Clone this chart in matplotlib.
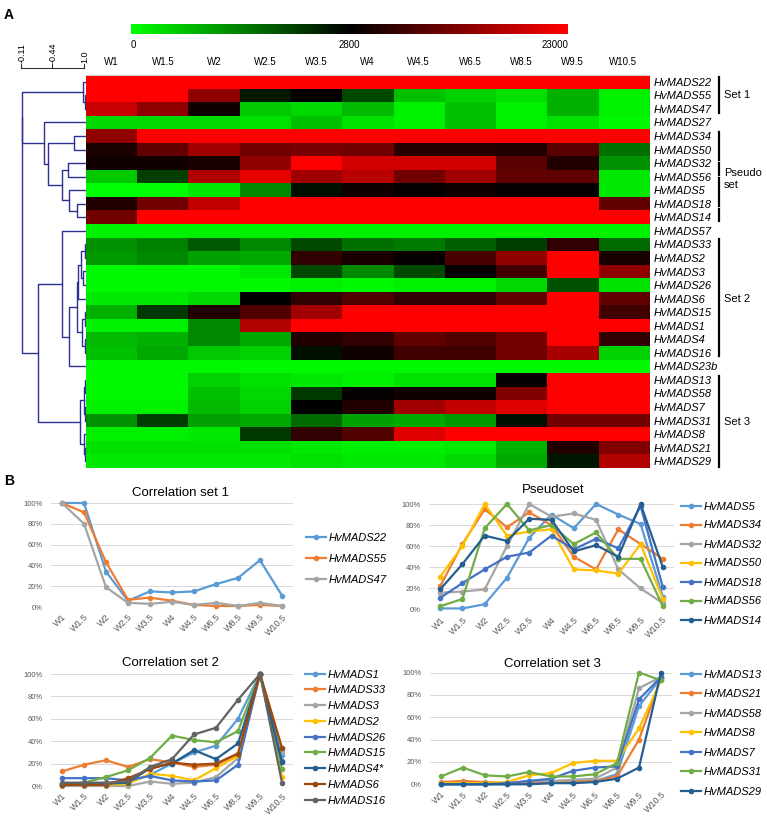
import numpy as np
import matplotlib
matplotlib.use('Agg')
import matplotlib.pyplot as plt
from matplotlib.colors import LinearSegmentedColormap, TwoSlopeNorm
from matplotlib import transforms

plt.rcParams['font.family'] = ['Liberation Sans', 'DejaVu Sans']

W, H = 767, 821

stages = ['W1', 'W1.5', 'W2', 'W2.5', 'W3.5', 'W4', 'W4.5', 'W6.5', 'W8.5', 'W9.5', 'W10.5']

# --- panel A: heatmap rows (top to bottom) ---
genes = ['HvMADS22', 'HvMADS55', 'HvMADS47', 'HvMADS27', 'HvMADS34', 'HvMADS50',
         'HvMADS32', 'HvMADS56', 'HvMADS5', 'HvMADS18', 'HvMADS14', 'HvMADS57',
         'HvMADS33', 'HvMADS2', 'HvMADS3', 'HvMADS26', 'HvMADS6', 'HvMADS15',
         'HvMADS1', 'HvMADS4', 'HvMADS16', 'HvMADS23b', 'HvMADS13', 'HvMADS58',
         'HvMADS7', 'HvMADS31', 'HvMADS8', 'HvMADS21', 'HvMADS29']

expr = np.array([
    [23000, 23000, 23000, 23000, 23000, 23000, 23000, 23000, 23000, 23000, 23000],
    [23000, 23000, 14200, 2540, 2800, 2010, 690, 515, 340, 870, 165],
    [18640, 14200, 4070, 600, 430, 780, 165, 690, 165, 870, 165],
    [430, 430, 430, 340, 690, 340, 165, 690, 165, 340, 77],
    [14200, 23000, 23000, 23000, 23000, 23000, 23000, 23000, 23000, 23000, 23000],
    [4860, 10400, 15470, 11670, 12300, 11670, 5970, 5970, 5330, 9770, 1570],
    [4070, 4070, 4700, 14200, 23000, 19280, 19280, 19280, 9770, 5330, 1220],
    [600, 2100, 16740, 21180, 15470, 17370, 11670, 15470, 10400, 10400, 250],
    [0, 0, 250, 1310, 2625, 4070, 3430, 4070, 3430, 3430, 250],
    [5330, 11670, 18010, 23000, 23000, 23000, 23000, 23000, 23000, 23000, 10400],
    [11670, 23000, 23000, 23000, 23000, 23000, 23000, 23000, 23000, 23000, 23000],
    [165, 165, 165, 165, 165, 165, 165, 165, 165, 165, 165],
    [1220, 1390, 1830, 1310, 2010, 1570, 1480, 1750, 2100, 6600, 1660],
    [1130, 1310, 1040, 955, 6600, 4700, 3430, 8500, 14200, 23000, 4700],
    [77, 77, 77, 250, 2010, 1310, 2010, 3430, 7870, 23000, 14200],
    [77, 77, 77, 77, 165, 77, 165, 165, 430, 1920, 340],
    [250, 250, 430, 2800, 6600, 9140, 6600, 6600, 10400, 23000, 10400],
    [870, 2185, 5330, 9140, 15470, 23000, 23000, 23000, 23000, 23000, 7870],
    [165, 165, 1310, 16740, 23000, 23000, 23000, 23000, 23000, 23000, 23000],
    [780, 870, 1310, 955, 5330, 6600, 10400, 9140, 11670, 23000, 6600],
    [690, 955, 600, 515, 2625, 4070, 7870, 7870, 11670, 16100, 515],
    [77, 77, 77, 77, 77, 77, 77, 77, 77, 77, 77],
    [77, 77, 515, 340, 250, 165, 340, 340, 3430, 23000, 23000],
    [77, 77, 690, 430, 2185, 3430, 4070, 4070, 12940, 23000, 23000],
    [165, 165, 780, 515, 2800, 5330, 15470, 18010, 20540, 23000, 23000],
    [1220, 2100, 1040, 955, 1660, 1040, 955, 1130, 2625, 11670, 11670],
    [165, 165, 250, 2185, 6600, 9140, 20540, 23000, 23000, 23000, 23000],
    [340, 340, 340, 340, 250, 165, 165, 250, 870, 5330, 12940],
    [250, 250, 250, 250, 340, 250, 250, 430, 955, 2540, 16740],
])

cbar_ticks = [0, 2800, 23000]
scale_labels = ['-0.11', '-0.44', '1.0']

# dendrogram: (height, left, right); height 0 = leaves
top_tree = (0.741,
            (0.038, 'HvMADS22', (0.012, 'HvMADS55', 'HvMADS47')),
            (0.488, 'HvMADS27',
             (0.438, (0.136, 'HvMADS34', 'HvMADS50'),
              (0.283, (0.206, 'HvMADS32', 'HvMADS56'),
               (0.194, 'HvMADS5', (0.101, 'HvMADS18', 'HvMADS14'))))))
set2_tree = (0.283, 'HvMADS57',
             (0.194,
              (0.108,
               (0.093, (0.058, (0.012, 'HvMADS33', 'HvMADS2'), (0.031, 'HvMADS3', 'HvMADS26')), 'HvMADS6'),
               (0.05, (0.012, 'HvMADS15', 'HvMADS1'), (0.012, 'HvMADS4', 'HvMADS16'))),
              'HvMADS23b'))
set3_tree = (0.07,
             (0.023, (0.008, 'HvMADS13', 'HvMADS58'), (0.012, 'HvMADS7', 'HvMADS31')),
             (0.023, 'HvMADS8', (0.012, 'HvMADS21', 'HvMADS29')))
tree = (0.744, top_tree, (0.555, set2_tree, set3_tree))

# --- panel B: relative expression (%) ---
set1_names = ['HvMADS22', 'HvMADS55', 'HvMADS47']
set1_vals = [
    [100, 100, 34, 6, 15, 14, 15, 22, 28, 45, 11],
    [100, 91, 43, 7, 9, 6, 2, 1, 1, 2, 1],
    [100, 80, 19, 4, 3, 5, 2, 4, 1, 4, 1],
]
pseudo_names = ['HvMADS5', 'HvMADS34', 'HvMADS32', 'HvMADS50', 'HvMADS18', 'HvMADS56', 'HvMADS14']
pseudo_vals = [
    [1, 1, 5, 30, 68, 90, 77, 100, 90, 81, 12],
    [22, 62, 95, 78, 92, 80, 50, 38, 76, 62, 48],
    [16, 17, 19, 60, 100, 88, 91, 85, 38, 20, 6],
    [31, 60, 100, 70, 74, 76, 38, 37, 34, 62, 10],
    [11, 25, 38, 50, 54, 70, 57, 67, 58, 98, 21],
    [3, 10, 77, 100, 75, 80, 62, 73, 48, 48, 3],
    [19, 43, 70, 65, 86, 85, 55, 61, 50, 100, 40],
]
set2_names = ['HvMADS1', 'HvMADS33', 'HvMADS3', 'HvMADS2', 'HvMADS26', 'HvMADS15',
              'HvMADS4*', 'HvMADS6', 'HvMADS16']
set2_vals = [
    [2, 2, 2, 3, 10, 20, 30, 36, 60, 100, 28],
    [13, 19, 23, 17, 24, 21, 17, 19, 28, 100, 33],
    [0, 0, 0, 0, 4, 2, 3, 8, 25, 100, 30],
    [1, 1, 1, 2, 11, 9, 5, 16, 27, 100, 8],
    [7, 7, 7, 5, 9, 5, 4, 5, 19, 100, 22],
    [1, 3, 8, 14, 25, 45, 41, 39, 49, 100, 15],
    [2, 2, 2, 3, 16, 20, 32, 24, 38, 100, 21],
    [1, 1, 1, 7, 15, 21, 19, 20, 29, 100, 34],
    [3, 3, 3, 4, 17, 24, 46, 52, 77, 100, 3],
]
set3_names = ['HvMADS13', 'HvMADS21', 'HvMADS58', 'HvMADS8', 'HvMADS7', 'HvMADS31', 'HvMADS29']
set3_vals = [
    [0, 0, 0, 0, 1, 1, 2, 3, 9, 70, 95],
    [2, 3, 2, 1, 1, 2, 3, 3, 7, 40, 95],
    [1, 1, 1, 1, 3, 3, 4, 5, 15, 86, 96],
    [1, 1, 1, 2, 8, 10, 19, 21, 21, 50, 93],
    [0, 0, 0, 1, 3, 5, 12, 15, 16, 76, 96],
    [7, 15, 8, 7, 11, 7, 7, 9, 19, 100, 93],
    [0, 0, 0, 0, 0, 1, 1, 2, 5, 15, 100],
]

palette = ['#5B9BD5', '#ED7D31', '#A5A5A5', '#FFC000', '#4472C4', '#70AD47',
           '#255E91', '#9E480E', '#636363']


def box(x0, y0, x1, y1):
    # pixel box (origin top-left) -> figure fraction rect
    return [x0 / W, 1 - y1 / H, (x1 - x0) / W, (y1 - y0) / H]


def ftext(x, y, s, **kw):
    fig.text(x / W, 1 - y / H, s, **kw)


fig = plt.figure(figsize=(W / 100, H / 100), dpi=100)

# overlay in pixel coordinates for annotations
axo = fig.add_axes([0, 0, 1, 1])
axo.set_xlim(0, W)
axo.set_ylim(H, 0)
axo.axis('off')

# heatmap
cmap = LinearSegmentedColormap.from_list('gkr', ['#00ff00', '#000000', '#ff0000'])
norm = TwoSlopeNorm(vmin=cbar_ticks[0], vcenter=cbar_ticks[1], vmax=cbar_ticks[2])
axh = fig.add_axes(box(86, 75, 649, 468))
im = axh.imshow(expr, cmap=cmap, norm=norm, aspect='auto', interpolation='nearest')
axh.set_yticks(range(len(genes)))
axh.set_yticklabels(genes, style='italic', fontsize=8)
axh.yaxis.tick_right()
axh.set_xticks(range(len(stages)))
axh.set_xticklabels(stages, fontsize=7)
axh.xaxis.tick_top()
axh.tick_params(axis='both', length=0)
axh.tick_params(axis='y', pad=3)
axh.tick_params(axis='x', pad=5.5)
for side, sp in axh.spines.items():
    sp.set_visible(side == 'top')
axh.spines['top'].set_color('#c8c8c8')

# colour bar
cax = fig.add_axes(box(131, 24, 568, 34))
cb = fig.colorbar(im, cax=cax, orientation='horizontal', ticks=cbar_ticks)
cb.outline.set_visible(False)
cax.tick_params(length=0, labelsize=7, pad=4)
cax.set_xticklabels([str(t) for t in cbar_ticks])
lbls = cax.get_xticklabels()
lbls[0].set_ha('left')
lbls[-1].set_ha('right')

# dendrogram
dcol = '#2e3192'
axd = fig.add_axes(box(0, 75, 86, 468))
axd.set_xlim(1.0, 0.0)
axd.set_ylim(len(genes) - 0.5, -0.5)
axd.axis('off')
row_of = {g: i for i, g in enumerate(genes)}


def draw_node(node):
    if isinstance(node, str):
        return row_of[node], 0.0
    h, a, b = node
    ya, ha = draw_node(a)
    yb, hb = draw_node(b)
    axd.plot([ha, h, h, hb], [ya, ya, yb, yb], color=dcol, lw=1)
    return (ya + yb) / 2, h


draw_node(tree)

# dendrogram scale bar
sx = [21, 52, 84]
axo.plot([sx[0], sx[-1]], [68, 68], color='#333333', lw=0.8)
for x, s in zip(sx, scale_labels):
    axo.plot([x, x], [68, 64], color='#333333', lw=0.8)
    axo.text(x + 1, 63, s, rotation=90, ha='center', va='bottom', fontsize=6.5)

# set brackets (x in pixels, y in heatmap rows)
tr = transforms.blended_transform_factory(axo.transData, axh.transData)
bx = 719
axo.plot([bx, bx], [-0.35, 2.3], color='k', lw=1.6, transform=tr, clip_on=False)
axo.text(724, 1.0, 'Set 1', fontsize=8, va='center', transform=tr)
seg = np.linspace(3.6, 10.4, 7)
for a, b in zip(seg[:-1], seg[1:]):
    axo.plot([bx, bx], [a + 0.1, b - 0.1], color='k', lw=1.6, transform=tr, clip_on=False)
axo.text(724, 6.75, 'Pseudo', fontsize=8, va='center', transform=tr)
axo.text(724, 7.6, 'set', fontsize=8, va='center', transform=tr)
axo.plot([bx, bx], [11.6, 20.2], color='k', lw=1.6, transform=tr, clip_on=False)
axo.text(724, 16.0, 'Set 2', fontsize=8, va='center', transform=tr)
axo.plot([bx, bx], [21.7, 28.4], color='k', lw=1.6, transform=tr, clip_on=False)
axo.text(724, 25.1, 'Set 3', fontsize=8, va='center', transform=tr)

ftext(4, 15, 'A', fontsize=10, weight='bold', va='center')
ftext(4, 481, 'B', fontsize=10, weight='bold', va='center')


def line_panel(pbox, title, txy, names, rows, leg_xy, leg_space):
    ax = fig.add_axes(box(*pbox))
    x = np.arange(len(stages))
    for name, vals, col in zip(names, rows, palette):
        ax.plot(x, vals, color=col, lw=1.6, marker='o', ms=3, label=name, clip_on=False)
    ax.set_xlim(-0.5, len(stages) - 0.5)
    ax.set_ylim(0, 100)
    ax.set_yticks(range(0, 101, 20))
    ax.set_yticklabels([f'{v}%' for v in range(0, 101, 20)])
    ax.set_xticks(x)
    ax.set_xticklabels(stages, rotation=45, ha='right', rotation_mode='anchor')
    ax.grid(axis='y', color='#d9d9d9', lw=0.7)
    ax.set_axisbelow(True)
    for sp in ax.spines.values():
        sp.set_visible(False)
    ax.tick_params(axis='y', length=0, labelsize=5.5, labelcolor='#595959', pad=6)
    ax.tick_params(axis='x', length=0, labelsize=6.5, labelcolor='#595959', pad=4)
    ftext(txy[0], txy[1], title, fontsize=9.5, ha='center', va='center')
    ax.legend(loc='upper left', bbox_to_anchor=(leg_xy[0] / W, 1 - leg_xy[1] / H),
              bbox_transform=fig.transFigure, frameon=False, borderpad=0,
              borderaxespad=0, handlelength=1.8, handletextpad=0.25,
              labelspacing=leg_space, prop={'style': 'italic', 'size': 8})
    return ax


line_panel((51, 503, 293, 607), 'Correlation set 1', (180, 493),
           set1_names, set1_vals, (306, 532.5), 1.0)
line_panel((429, 504, 674, 609.5), 'Pseudoset', (553, 490),
           pseudo_names, pseudo_vals, (681, 501.5), 0.81)
line_panel((51, 674, 293, 786), 'Correlation set 2', (170, 663),
           set2_names, set2_vals, (305, 669.5), 0.52)
line_panel((430, 672.5, 672, 784.3), 'Correlation set 3', (552, 664),
           set3_names, set3_vals, (681, 669.5), 0.86)

fig.savefig('out.png', dpi=100)
